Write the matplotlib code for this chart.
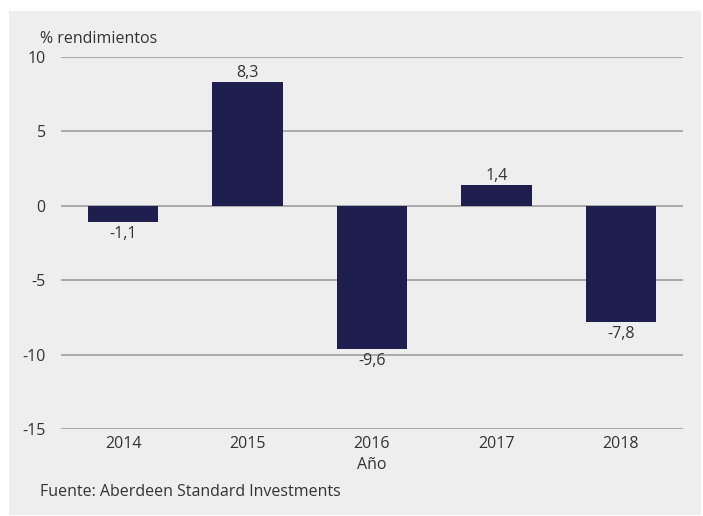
import matplotlib.pyplot as plt
from matplotlib.patches import Rectangle

years = ["2014", "2015", "2016", "2017", "2018"]
returns = [-1.1, 8.3, -9.6, 1.4, -7.8]
labels = ["-1,1", "8,3", "-9,6", "1,4", "-7,8"]
yticks = [10, 5, 0, -5, -10, -15]

plt.rcParams['font.family'] = ['Open Sans', 'DejaVu Sans']
text_color = '#333333'
bg = '#eeeeee'
bar_color = '#1e1f4e'

W, H = 703, 516
fig = plt.figure(figsize=(W / 100, H / 100), dpi=100, facecolor='white')
fig.patches.append(Rectangle((9 / W, 1 - 515 / H), 692 / W, 504 / H,
                             transform=fig.transFigure, facecolor=bg,
                             edgecolor='none', zorder=-10))

# plot area: x 61..683, y 57 (10) .. 429 (-15)
ax = fig.add_axes([61 / W, 1 - 429 / H, 622 / W, 372 / H])
ax.set_facecolor('none')

x = range(len(years))
ax.bar(x, returns, width=0.565, color=bar_color, zorder=3)

ax.set_xlim(-0.5, 4.5)
ax.set_ylim(-15, 10)
ax.set_yticks(yticks)
ax.set_yticklabels([str(t) for t in yticks])
ax.set_xticks(list(x))
ax.set_xticklabels(years)
ax.grid(axis='y', color='#a3a3a3', linewidth=1.3, zorder=1)
for s in ax.spines.values():
    s.set_visible(False)
ax.tick_params(length=0, labelsize=11.5, colors=text_color)
ax.tick_params(axis='y', pad=11)
ax.tick_params(axis='x', pad=5)

for xi, v, lab in zip(x, returns, labels):
    if v >= 0:
        ax.annotate(lab, (xi, v), xytext=(0, 1), textcoords='offset points',
                    ha='center', va='bottom', fontsize=11.5, color=text_color)
    else:
        ax.annotate(lab, (xi, v), xytext=(0, -3), textcoords='offset points',
                    ha='center', va='top', fontsize=11.5, color=text_color)

fig.text(40 / W, 1 - 39 / H, "% rendimientos", ha='left', va='center',
         fontsize=11.5, color=text_color)
fig.text(372 / W, 1 - 465 / H, "Año", ha='center', va='center',
         fontsize=11.5, color=text_color)
fig.text(40 / W, 1 - 492 / H, "Fuente: Aberdeen Standard Investments",
         ha='left', va='center', fontsize=11.5, color=text_color)

fig.savefig("out.png", dpi=100, facecolor='white')
